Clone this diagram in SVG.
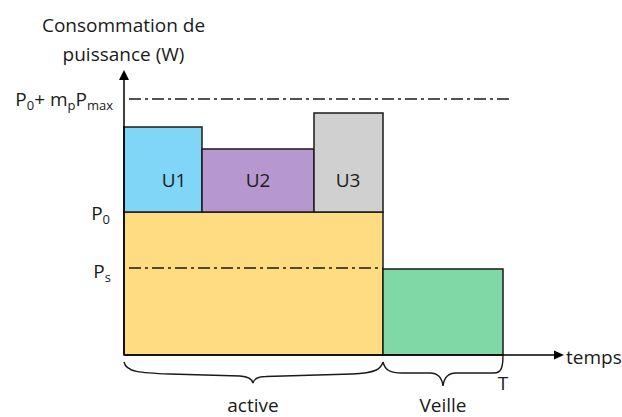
<svg xmlns="http://www.w3.org/2000/svg" width="622" height="417" viewBox="0 0 622 417">
<defs>
<style>
text{font-family:"Open Sans","Noto Sans","Liberation Sans",sans-serif;font-size:19px;fill:#1a1a1a}
.sub{font-size:13px}
.bar{stroke:#1a1a1a;stroke-width:1.5}
.dd{stroke:#1a1a1a;stroke-width:1.4;stroke-dasharray:12 4 3 4;fill:none}
.brace{stroke:#1a1a1a;stroke-width:1.4;fill:none}
.axis{stroke:#000;stroke-width:1.5;fill:none}
</style>
</defs>
<rect width="622" height="417" fill="#fff"/>
<g id="active-base"><rect class="bar" x="124" y="212" width="259" height="143" fill="#ffdc82"/></g>
<g id="U1"><rect class="bar" x="124" y="127" width="78" height="85" fill="#7fd6f6"/><text x="174" y="187" text-anchor="middle">U1</text></g>
<g id="U2"><rect class="bar" x="202" y="149" width="112" height="63" fill="#b797cf"/><text x="258" y="187" text-anchor="middle">U2</text></g>
<g id="U3"><rect class="bar" x="314" y="113" width="69" height="99" fill="#d0d0d0"/><text x="348" y="187" text-anchor="middle">U3</text></g>
<g id="veille-bar"><rect class="bar" x="383" y="269" width="120" height="86" fill="#80d8a6"/></g>
<g id="connectors">
<line class="dd" x1="129" y1="99" x2="512" y2="99"/>
<line class="dd" x1="129" y1="268" x2="383" y2="268"/>
<line class="axis" x1="124" y1="355" x2="124" y2="78"/>
<polygon points="124,70 119,80 129,80" fill="#000"/>
<line class="axis" x1="124" y1="355" x2="555" y2="355"/>
<polygon points="564,355 554,350.5 554,359.5" fill="#000"/>
<path class="brace" d="M124,362 C126,372 140,373 170,374 L240,376 C248,376.5 252,379 253,383 C254,379 258,376.5 266,376.5 L352,374 C376,373 381,369 383,362"/>
<path class="brace" d="M383,362 C385,370 390,373 402,373 L430,373 C438,373 442,378 443,386 C444,378 448,373 456,373 L494,373 C501,373 503,368 503,355"/>
</g>
<g id="labels">
<text x="123.5" y="32" text-anchor="middle">Consommation de</text>
<text x="123.5" y="61" text-anchor="middle">puissance (W)</text>
<text x="113" y="106" text-anchor="end">P<tspan class="sub" dy="4">0</tspan><tspan dy="-4">+ m</tspan><tspan class="sub" dy="4">p</tspan><tspan dy="-4">P</tspan><tspan class="sub" dy="4">max</tspan></text>
<text x="110" y="220" text-anchor="end">P<tspan class="sub" dy="4">0</tspan></text>
<text x="111" y="278" text-anchor="end">P<tspan class="sub" dy="4">s</tspan></text>
<text x="566" y="364">temps</text>
<text x="503" y="390" text-anchor="middle">T</text>
<text x="253" y="412" text-anchor="middle">active</text>
<text x="443" y="412" text-anchor="middle">Veille</text>
</g>
</svg>
